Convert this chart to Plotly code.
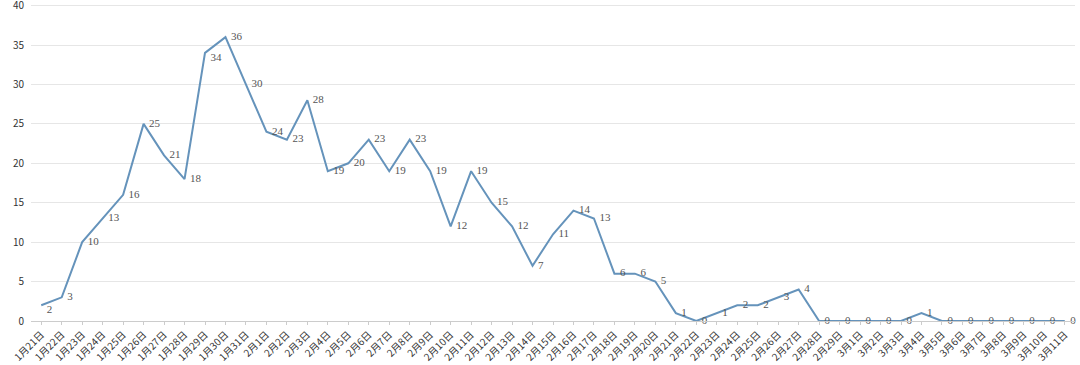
import plotly.graph_objects as go

dates = ["1月21日","1月22日","1月23日","1月24日","1月25日","1月26日","1月27日","1月28日","1月29日","1月30日","1月31日",
         "2月1日","2月2日","2月3日","2月4日","2月5日","2月6日","2月7日","2月8日","2月9日","2月10日",
         "2月11日","2月12日","2月13日","2月14日","2月15日","2月16日","2月17日","2月18日","2月19日","2月20日",
         "2月21日","2月22日","2月23日","2月24日","2月25日","2月26日","2月27日","2月28日","2月29日",
         "3月1日","3月2日","3月3日","3月4日","3月5日","3月6日","3月7日","3月8日","3月9日","3月10日","3月11日"]
values = [2,3,10,13,16,25,21,18,34,36,30,
          24,23,28,19,20,23,19,23,19,12,
          19,15,12,7,11,14,13,6,6,5,
          1,0,1,2,2,3,4,0,0,
          0,0,0,1,0,0,0,0,0,0,0]

positions = ["middle right"] * len(values)
positions[0] = "bottom right"
positions[8] = "bottom right"

fig = go.Figure()
fig.add_trace(go.Scatter(
    x=dates, y=values, mode="lines+text",
    line=dict(color="#6593bb", width=2),
    text=["  " + str(v) for v in values],
    textposition=positions,
    textfont=dict(family="Liberation Serif, DejaVu Serif, serif", size=11, color="#555555"),
    cliponaxis=False,
    hoverinfo="x+y",
))

fig.update_layout(
    width=1080, height=365,
    margin=dict(l=31, r=5, t=4, b=44),
    paper_bgcolor="white", plot_bgcolor="white",
    showlegend=False,
    font=dict(family="Noto Sans CJK SC, Noto Sans, sans-serif", color="#333333"),
)
fig.update_xaxes(
    type="category", range=[-0.5, len(dates) - 0.5],
    tickangle=-45, tickfont=dict(size=10, color="#333333"),
    showgrid=False, showline=True, linecolor="#cccccc", linewidth=1,
    ticks="outside", ticklen=3, tickcolor="#cccccc", automargin=False,
)
fig.update_yaxes(
    range=[0, 40.2], dtick=5, showgrid=True, gridcolor="#e6e6e6", gridwidth=1,
    zeroline=False, showline=False, tickfont=dict(size=10, color="#333333"),
    ticks="", ticklabelstandoff=6, automargin=False, ticklabeloverflow="allow",
)

fig.write_html("out.html", config={"displayModeBar": False},
               post_script="document.body.style.margin='0';")
